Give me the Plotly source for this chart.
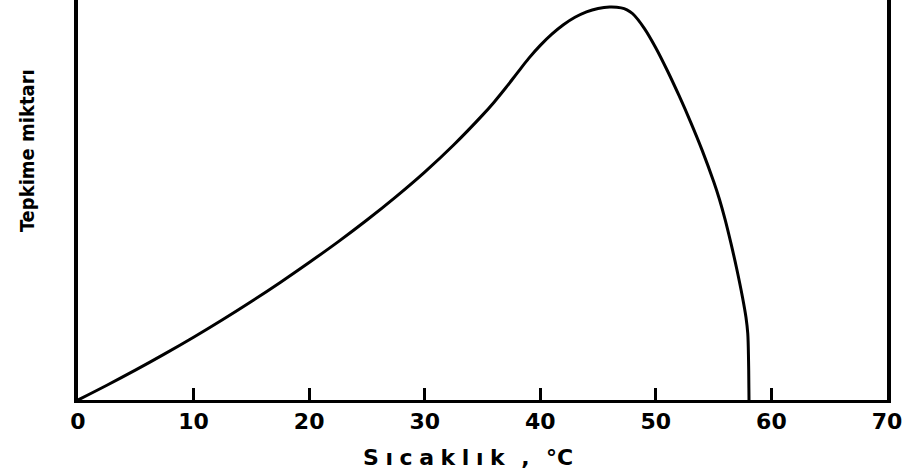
import plotly.graph_objects as go

# Temperature (°C) and relative reaction amount
temperature = [0, 2.5, 5, 7.5, 10, 12.5, 15, 17.5, 20, 22.5, 25, 27.5, 30, 32.5, 35,
               36, 37, 38, 39, 40, 41, 42, 43, 44, 45, 46, 47, 47.5, 48, 49, 50, 51,
               52, 53, 54, 55, 55.5, 56, 56.5, 57, 57.5, 57.8, 57.95, 58.02, 58.05, 58.06]
reaction = [0, 3.75, 7.65, 11.73, 15.98, 20.43, 25.08, 29.93, 35.0, 40.25, 45.8, 51.7,
            58.0, 64.9, 72.5, 75.8, 79.4, 83.2, 86.95, 90.25, 93.1, 95.5, 97.4, 98.8,
            99.65, 100, 99.8, 99.3, 98.3, 94.6, 89.6, 83.8, 77.5, 70.8, 63.6, 55.6, 51.1,
            45.85, 39.85, 33.35, 26.1, 21, 17, 10, 3, 0]
tick_values = [0, 10, 20, 30, 40, 50, 60, 70]
tick_labels = ["0", "10", "20", "30", "40", "50", "60", "70"]

fig = go.Figure()
fig.add_trace(go.Scatter(
    x=temperature, y=reaction, mode="lines",
    line=dict(color="black", width=3, shape="spline", smoothing=1.0),
    hoverinfo="skip", showlegend=False,
))

gap = "\u2009\u200a"
xtitle = gap.join(list("Sıcaklık")) + "\u2009\u2009 ,\u2009\u2009 °C"

fig.update_layout(
    width=912, height=476,
    margin=dict(l=78, r=25, t=0, b=76),
    paper_bgcolor="white", plot_bgcolor="white",
    xaxis=dict(
        range=[0, 70], tickvals=tick_values, ticktext=tick_labels,
        showgrid=False, zeroline=False, showline=True, linecolor="black", linewidth=3,
        ticks="inside", ticklen=12, tickwidth=2.5, tickcolor="black",
        tickfont=dict(family="DejaVu Sans", size=22, color="black", weight="bold"),
        ticklabelstandoff=0,
        mirror=False,
    ),
    yaxis=dict(
        range=[0, 101.8], showticklabels=False, ticks="",
        showgrid=False, zeroline=False, showline=True, linecolor="black", linewidth=3.5,
        mirror=True,
    ),
    annotations=[
        dict(text="<b>Tepkime miktarı</b>", textangle=-90, showarrow=False,
             xref="paper", yref="paper", x=-0.063, y=0.6225,
             xanchor="center", yanchor="middle",
             font=dict(family="DejaVu Sans Condensed", size=20, color="black")),
        dict(text=xtitle,
             showarrow=False, xref="paper", yref="paper",
             x=(468 - 78) / 809, y=-(457 - 400) / 400,
             xanchor="center", yanchor="middle",
             font=dict(family="DejaVu Sans", size=22, color="black", weight="bold")),
    ],
)

fig.write_html("out.html", config={"displayModeBar": False},
               post_script="document.body.style.margin='0';")
